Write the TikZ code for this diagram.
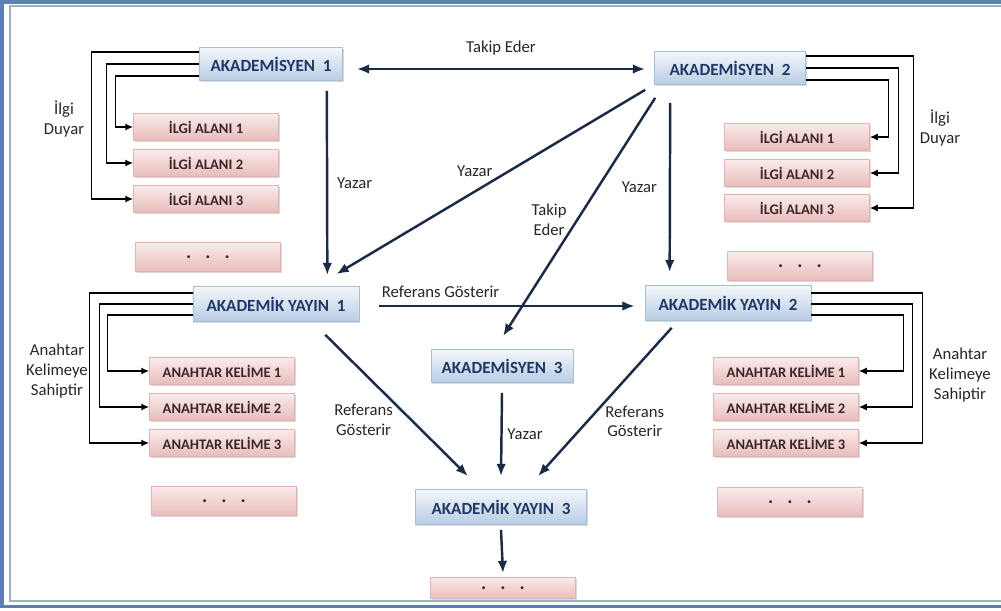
\documentclass[tikz,border=0pt]{standalone}
\usepackage{fontspec}
\setmainfont{Carlito}
\usetikzlibrary{positioning,arrows.meta,calc,shadows}
\definecolor{navy}{HTML}{1F3864}
\definecolor{linkc}{HTML}{1C2B45}
\definecolor{bluetop}{HTML}{F4F7FB}
\definecolor{bluebot}{HTML}{B8CCE4}
\definecolor{blueedge}{HTML}{A7BEDA}
\definecolor{pinktop}{HTML}{FBEBEB}
\definecolor{pinkbot}{HTML}{E8BCBB}
\definecolor{pinkedge}{HTML}{E2B3B2}
\definecolor{pinktext}{HTML}{3A2828}
\definecolor{framec}{HTML}{5A80B6}
\definecolor{framein}{HTML}{9AB0C8}
\newcommand{\moredots}{{\fontsize{11}{12}\selectfont.\hspace{8pt}.\hspace{8pt}.}}

\tikzset{
  actor/.style={draw=blueedge, top color=bluetop, bottom color=bluebot, text=navy,
    font=\fontsize{9.7}{11}\selectfont\bfseries, minimum height=0.66cm, inner sep=2pt,
    drop shadow={shadow xshift=0.7pt, shadow yshift=-0.9pt, opacity=0.3}},
  item/.style={draw=pinkedge, top color=pinktop, bottom color=pinkbot, text=pinktext,
    font=\fontsize{8.3}{10}\selectfont\bfseries, minimum width=2.9cm, minimum height=0.54cm, inner sep=1pt,
    drop shadow={shadow xshift=0.7pt, shadow yshift=-0.9pt, opacity=0.3}},
  link/.style={draw=linkc, line width=1.4pt, -{Latex[length=7pt,width=5.5pt]}},
  elbow/.style={draw=black, line width=0.7pt, -{Latex[length=4.5pt,width=4pt]}},
  lbl/.style={font=\fontsize{9.5}{11.3}\selectfont, text=black!85, align=center, inner sep=1pt}
}

\begin{document}
\begin{tikzpicture}[x=0.02cm, y=-0.02cm]
  \useasboundingbox (0,0) rectangle (1001,610);
  % frame
  \draw[framec, line width=2pt] (1.8,1.8) rectangle (1012,606.5);
  \draw[framein, line width=0.6pt] (10,6) rectangle (1012,601);

  % academics and publications
  \node[actor, minimum width=2.86cm] (ak1) at (271,64) {AKADEMİSYEN~ 1};
  \node[actor, minimum width=3.02cm] (ak2) at (730,68) {AKADEMİSYEN~ 2};
  \node[actor, minimum width=2.84cm] (ak3) at (502,366) {AKADEMİSYEN~ 3};
  \node[actor, minimum width=3.32cm, minimum height=0.7cm] (ay1) at (276,304) {AKADEMİK YAYIN~ 1};
  \node[actor, minimum width=3.32cm, minimum height=0.7cm] (ay2) at (728,303) {AKADEMİK YAYIN~ 2};
  \node[actor, minimum width=3.42cm, minimum height=0.7cm] (ay3) at (501,507) {AKADEMİK YAYIN~ 3};

  % interests
  \node[item] (ia1) at (206,127) {İLGİ ALANI 1};
  \node[item] (ia2) at (206,163) {İLGİ ALANI 2};
  \node[item] (ia3) at (206,199) {İLGİ ALANI 3};
  \node[item, minimum height=0.58cm] (iad) at (208,257) {\moredots};
  \node[item] (ib1) at (797,137) {İLGİ ALANI 1};
  \node[item] (ib2) at (797,173) {İLGİ ALANI 2};
  \node[item] (ib3) at (797,208) {İLGİ ALANI 3};
  \node[item, minimum height=0.58cm] (ibd) at (800,266) {\moredots};

  % keywords
  \node[item] (ka1) at (222,371) {ANAHTAR KELİME 1};
  \node[item] (ka2) at (222,407) {ANAHTAR KELİME 2};
  \node[item] (ka3) at (222,443) {ANAHTAR KELİME 3};
  \node[item, minimum height=0.58cm] (kad) at (224,501) {\moredots};
  \node[item] (kb1) at (786,371) {ANAHTAR KELİME 1};
  \node[item] (kb2) at (786,407) {ANAHTAR KELİME 2};
  \node[item] (kb3) at (786,443) {ANAHTAR KELİME 3};
  \node[item, minimum height=0.58cm] (kbd) at (790,502) {\moredots};
  \node[item, minimum height=0.42cm] (dd) at (503,588) {\moredots};

  % group labels
  \node[lbl] (ilgiL) at (64,119) {İlgi\\Duyar};
  \node[lbl] (ilgiR) at (940,128) {İlgi\\Duyar};
  \node[lbl] (anahL) at (57,371) {Anahtar\\Kelimeye\\Sahiptir};
  \node[lbl] (anahR) at (960,375) {Anahtar\\Kelimeye\\Sahiptir};

  % elbow connectors
  \draw[elbow] ([yshift=0.24cm]ak1.west) -- ++(-108,0) |- (ia3.west);
  \draw[elbow] (ak1.west) -- ++(-93,0) |- (ia2.west);
  \draw[elbow] ([yshift=-0.24cm]ak1.west) -- ++(-84,0) |- (ia1.west);
  \draw[elbow] ([yshift=0.24cm]ak2.east) -- ++(108,0) |- (ib3.east);
  \draw[elbow] (ak2.east) -- ++(93,0) |- (ib2.east);
  \draw[elbow] ([yshift=-0.24cm]ak2.east) -- ++(83,0) |- (ib1.east);
  \draw[elbow] ([yshift=0.22cm]ay1.west) -- ++(-103,0) |- (ka3.west);
  \draw[elbow] (ay1.west) -- ++(-93,0) |- (ka2.west);
  \draw[elbow] ([yshift=-0.22cm]ay1.west) -- ++(-85,0) |- (ka1.west);
  \draw[elbow] ([yshift=0.2cm]ay2.east) -- ++(111,0) |- (kb3.east);
  \draw[elbow] ([yshift=-0.02cm]ay2.east) -- ++(101,0) |- (kb2.east);
  \draw[elbow] ([yshift=-0.24cm]ay2.east) -- ++(92,0) |- (kb1.east);

  % main links
  \draw[link, {Latex[length=7pt,width=5.5pt]}-{Latex[length=7pt,width=5.5pt]}]
    ($(ak1.east)+(14,5)$) -- ($(ak2.west)+(-9,1)$) node[lbl, midway, above=0.22cm] {Takip Eder};
  \draw[link] ($(ak1.south east)+(-16,10)$) -- ($(ay1.north east)+(-32,-11)$)
    node[lbl, midway, right=0.14cm] {Yazar};
  \draw[link] ($(ak2.south west)+(-9,5)$) -- ($(ay1.north east)+(-23,-12)$)
    node[lbl, pos=0.485, anchor=south east] {Yazar};
  \draw[link] ($(ak2.south west)+(1,13)$) -- ($(ak3.north)+(1,-13)$)
    node[lbl, pos=0.51, left=0.16cm] {Takip\\Eder};
  \draw[link] ($(ak2.south west)+(16,18)$) -- ($(ay2.north west)+(25,-13)$)
    node[lbl, midway, left=0.2cm] {Yazar};
  \draw[link] ($(ay1.east)+(20,2)$) -- ($(ay2.west)+(-10,3)$)
    node[lbl, pos=0.24, above=0.1cm] {Referans Gösterir};
  \draw[link] ($(ay1.south east)+(-34,13)$) -- ($(ay3.north)+(-33,-13)$)
    node[lbl, pos=0.6, left=0.3cm] {Referans\\Gösterir};
  \draw[link] ($(ay2.south west)+(27,7)$) -- ($(ay3.north)+(37,-13)$)
    node[lbl, pos=0.63, right=0.3cm] {Referans\\Gösterir};
  \draw[link] ($(ak3.south)+(0,10)$) -- ($(ay3.north)+(0,-13)$)
    node[lbl, midway, right=0.06cm] {Yazar};
  \draw[link] ($(ay3.south)+(0,5)$) -- ($(dd.north)+(0,-4)$);
\end{tikzpicture}
\end{document}
